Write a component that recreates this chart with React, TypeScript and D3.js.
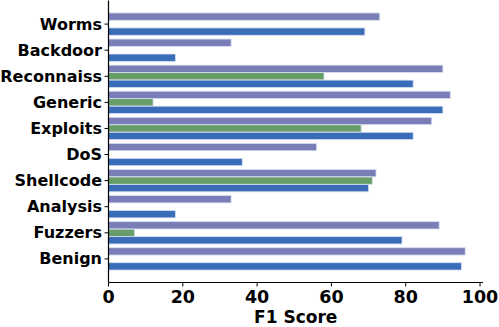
import React from 'react';
import * as d3 from 'd3';

const categories = ['Worms', 'Backdoor', 'Reconnaiss', 'Generic', 'Exploits', 'DoS', 'Shellcode', 'Analysis', 'Fuzzers', 'Benign'];
const purpleValues = [73, 33, 90, 92, 87, 56, 72, 33, 89, 96];
const greenValues = [0, 0, 58, 12, 68, 0, 71, 0, 7, 0];
const blueValues = [69, 18, 82, 90, 82, 36, 70, 18, 79, 95];
const xTicks = [0, 20, 40, 60, 80, 100];

const series = [
  { values: purpleValues, color: '#7a7eb6', offset: -1 },
  { values: greenValues, color: '#679e68', offset: 0 },
  { values: blueValues, color: '#3a6db8', offset: 1 },
];

const W = 499;
const H = 327;
const left = 108.5;
const right = 483;
const top = 0.5;
const bottom = 282.5;
const font = "'DejaVu Sans', sans-serif";

export default function App() {
  const x = d3.scaleLinear().domain([0, 100.8]).range([left, right]);
  const y = d3.scaleLinear().domain([-0.905, 9.905]).range([top, bottom]);
  const unit = y(1) - y(0);
  const barH = 0.28 * unit;

  return (
    <svg width={W} height={H} style={{ position: 'absolute', left: 0, top: 0 }}>
      <rect width={W} height={H} fill="#fff" />
      {series.map((s, si) =>
        s.values.map((v, i) =>
          v > 0 ? (
            <rect
              key={`${si}-${i}`}
              x={x(0)}
              y={y(i + s.offset * 0.287) - barH / 2}
              width={x(v) - x(0)}
              height={barH}
              fill={s.color}
              stroke="#d6dcf0"
              strokeWidth={0.8}
            />
          ) : null
        )
      )}
      <line x1={left} x2={left} y1={top} y2={bottom} stroke="#000" strokeWidth={1.2} />
      <line x1={left} x2={right} y1={bottom} y2={bottom} stroke="#000" strokeWidth={1.2} />
      {categories.map((c, i) => (
        <g key={c}>
          <line x1={left - 4} x2={left} y1={y(i)} y2={y(i)} stroke="#000" strokeWidth={1} />
          <text
            x={left - 6.5}
            y={y(i)}
            textAnchor="end"
            dominantBaseline="central"
            fontFamily={font}
            fontWeight="bold"
            fontSize={16}
          >
            {c}
          </text>
        </g>
      ))}
      {xTicks.map((t) => (
        <g key={t}>
          <line x1={x(t)} x2={x(t)} y1={bottom} y2={bottom + 4} stroke="#000" strokeWidth={1} />
          <text
            x={x(t)}
            y={302.7}
            textAnchor="middle"
            fontFamily={font}
            fontWeight="bold"
            fontSize={17.5}
          >
            {t}
          </text>
        </g>
      ))}
      <text
        x={(left + right) / 2}
        y={323}
        textAnchor="middle"
        fontFamily={font}
        fontWeight="bold"
        fontSize={17}
      >
        F1 Score
      </text>
    </svg>
  );
}
